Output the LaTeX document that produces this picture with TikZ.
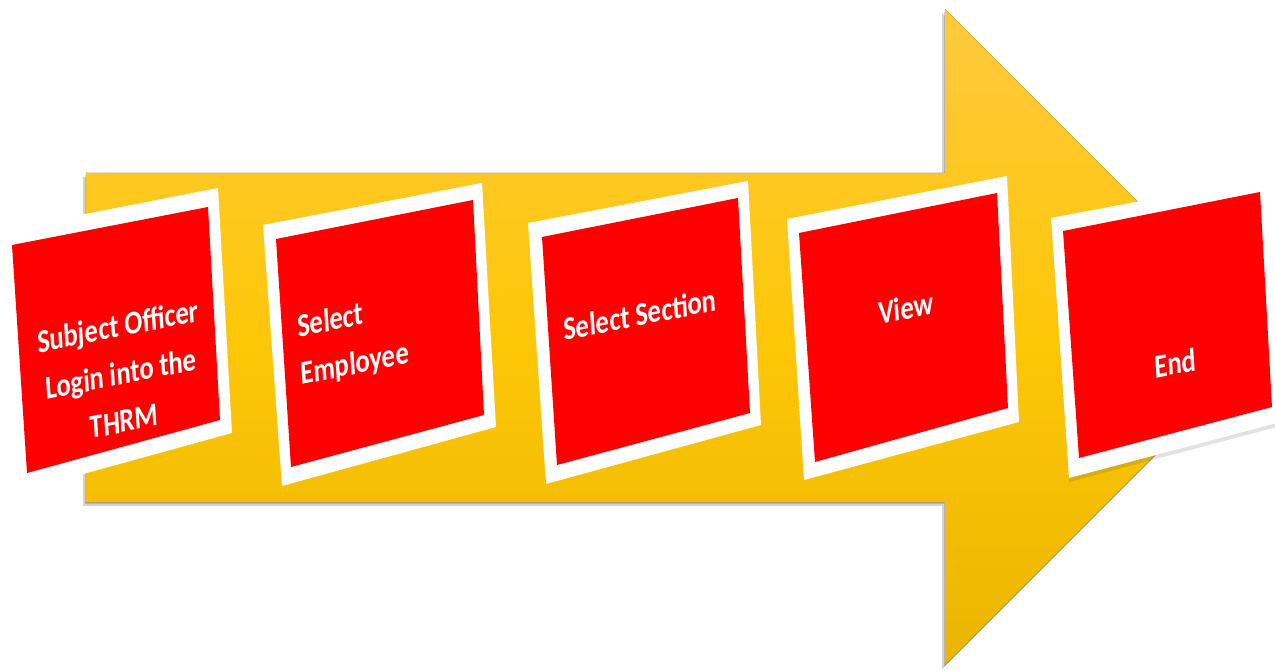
\documentclass[tikz,border=0pt]{standalone}
\usepackage{fontspec}
\newfontfamily\carlito{Carlito}
\definecolor{arrtop}{RGB}{254,201,62}
\definecolor{arrmid}{RGB}{254,199,8}
\definecolor{arrbot}{RGB}{234,181,0}
\definecolor{cardred}{RGB}{255,0,0}
\definecolor{shade}{RGB}{60,60,60}
\tikzset{
  arrowbody/.style={top color=arrtop, bottom color=arrbot, middle color=arrmid},
  arrowshadow/.style={fill=shade, opacity=0.22},
  frame/.style={fill=white},
  card/.style={fill=cardred},
  lbl/.style={text=white, inner sep=0pt,
    font=\carlito\bfseries\fontsize{27}{39}\selectfont,
    cm={0.981,0.194,-0.080,1.217,(0,0)}}
}
\begin{document}
\begin{tikzpicture}[x=1pt,y=-1pt]
\useasboundingbox (0,0) rectangle (1275,671);
\clip (0,0) rectangle (1275,671);
% arrow shadow
\begin{scope}[shift={(-3,4)}]
\fill[arrowshadow] (86,173) -- (945,173) -- (945,9) -- (1273,337) -- (945,665) -- (945,502) -- (86,502) -- cycle;
\end{scope}
\begin{scope}[shift={(-1,2)}]
\fill[arrowshadow] (86,173) -- (945,173) -- (945,9) -- (1273,337) -- (945,665) -- (945,502) -- (86,502) -- cycle;
\end{scope}
% arrow
\fill[arrowbody] (86,173) -- (945,173) -- (945,9) -- (1273,337) -- (945,665) -- (945,502) -- (86,502) -- cycle;

% card 1
\fill[frame] (-1,231) -- (218,188) -- (232,433) -- (18,492) -- cycle;
\fill[card] (12,245) -- (208,207) -- (220,420) -- (27,473) -- cycle;
% card 2
\fill[frame] (263,225) -- (482,183) -- (496,427) -- (282,486) -- cycle;
\fill[card] (276,239) -- (473,200) -- (484,415) -- (291,467) -- cycle;
% card 3
\fill[frame] (528,223) -- (748,181) -- (761,425) -- (546,484) -- cycle;
\fill[card] (542,237) -- (738,198) -- (750,413) -- (557,465) -- cycle;
% card 4
\fill[frame] (787,219) -- (1007,176) -- (1019,422) -- (804,480) -- cycle;
\fill[card] (799,233) -- (997,193) -- (1008,408) -- (815,462) -- cycle;
% card 5 (with soft shadow below)
\begin{scope}[shift={(0,4)}]
\fill[arrowshadow, opacity=0.15] (1051,218) -- (1278,175) -- (1292,419) -- (1069,478) -- cycle;
\end{scope}
\fill[frame] (1051,218) -- (1278,175) -- (1292,419) -- (1069,478) -- cycle;
\fill[card] (1063,231) -- (1260,192) -- (1272,407) -- (1079,458) -- cycle;

% labels
\node[lbl, align=center] (t1) at (121,373) {Subject Officer\\Login into the\\THRM};
\node[lbl, align=left, anchor=west] (t2) at (299,352) {Select\\Employee};
\node[lbl] (t3) at (640,314) {Select Section};
\node[lbl] (t4) at (906,308) {View};
\node[lbl] (t5) at (1175,363) {End};
\end{tikzpicture}
\end{document}
